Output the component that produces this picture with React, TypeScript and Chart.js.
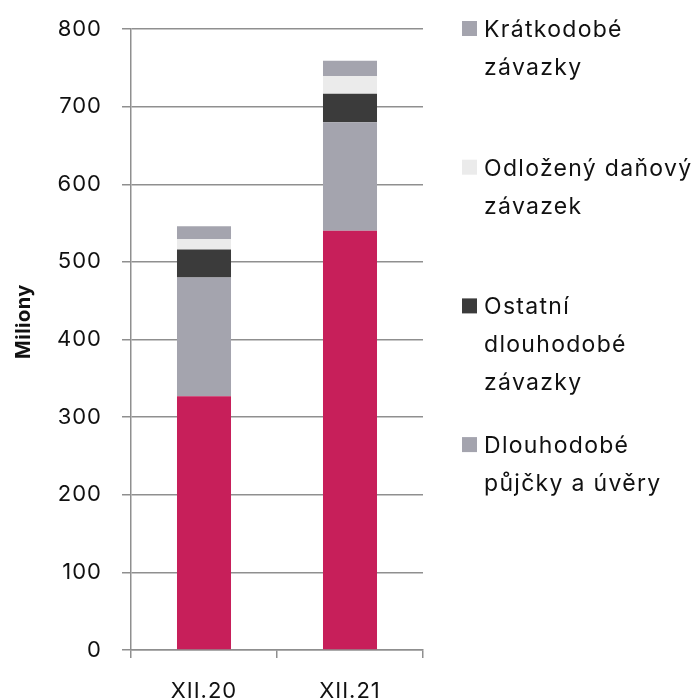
import React, { useEffect, useRef } from "react";
import { Chart, registerables } from "chart.js";

Chart.register(...registerables);

const categories = ["XII.20", "XII.21"];
const vlastniKapital = [327, 540];
const dlouhodobePujcky = [153, 140];
const ostatniDlouhodobe = [36, 36.5];
const odlozenyDanovy = [13, 23];
const kratkodobeZavazky = [17, 19.5];

const yMin = 0;
const yMax = 800;
const yStep = 100;
const yTitle = "Miliony";

const colCrimson = "#C71F5A";
const colGray = "#A4A4AE";
const colDark = "#3B3B3B";
const colLight = "#EBEBEB";
const gridColor = "#8F8F8F";
const fontFamily = "Inter, 'Noto Sans', sans-serif";

const legendEntries = [
  { lines: ["Krátkodobé", "závazky"], color: colGray },
  { lines: ["Odložený daňový", "závazek"], color: colLight },
  { lines: ["Ostatní", "dlouhodobé", "závazky"], color: colDark },
  { lines: ["Dlouhodobé", "půjčky a úvěry"], color: colGray },
];

const overlayPlugin = {
  id: "overlay",
  beforeDraw(chart: any) {
    (chart.ctx as any).letterSpacing = "1px";
  },
  afterDraw(chart: any) {
    const ctx = chart.ctx as any;
    const area = chart.chartArea;
    // Y-axis title
    ctx.save();
    ctx.letterSpacing = "0.5px";
    ctx.translate(24, (area.top + area.bottom) / 2 - 18);
    ctx.rotate(-Math.PI / 2);
    ctx.font = `bold 20px ${fontFamily}`;
    ctx.fillStyle = "#111111";
    ctx.textAlign = "center";
    ctx.textBaseline = "middle";
    ctx.fillText(yTitle, 0, 0);
    ctx.restore();

    // Legend
    ctx.save();
    ctx.letterSpacing = "1.3px";
    const boxX = area.right + 39;
    const textX = boxX + 22;
    legendEntries.forEach((e, i) => {
      const y0 = area.top - 0.5 + i * 138.7;
      ctx.fillStyle = e.color;
      ctx.fillRect(boxX, y0 - 7.5, 15, 15);
      ctx.fillStyle = "#111111";
      ctx.font = `23px ${fontFamily}`;
      ctx.textAlign = "left";
      ctx.textBaseline = "alphabetic";
      e.lines.forEach((l: string, j: number) => ctx.fillText(l, textX, y0 + 8.3 + j * 38));
    });
    ctx.restore();
    ctx.letterSpacing = "0px";
  },
};

export default function App() {
  const ref = useRef<HTMLCanvasElement>(null);
  useEffect(() => {
    if (!ref.current) return;
    const mk = (label: string, data: number[], color: string) => ({
      label,
      data,
      backgroundColor: color,
      borderWidth: 0,
      categoryPercentage: 1,
      barPercentage: 0.37,
    });
    const chart = new Chart(ref.current, {
      type: "bar",
      data: {
        labels: categories,
        datasets: [
          mk("Vlastní kapitál", vlastniKapital, colCrimson),
          mk("Dlouhodobé půjčky a úvěry", dlouhodobePujcky, colGray),
          mk("Ostatní dlouhodobé závazky", ostatniDlouhodobe, colDark),
          mk("Odložený daňový závazek", odlozenyDanovy, colLight),
          mk("Krátkodobé závazky", kratkodobeZavazky, colGray),
        ],
      },
      options: {
        animation: false,
        responsive: true,
        maintainAspectRatio: false,
        layout: { padding: { top: 29, right: 276, left: 0, bottom: 0 } },
        plugins: {
          legend: { display: false },
          tooltip: { enabled: false },
        },
        scales: {
          x: {
            stacked: true,
            afterFit: (s: any) => {
              s.height = 50;
            },
            grid: {
              offset: true,
              drawOnChartArea: false,
              tickLength: 8,
              color: gridColor,
              lineWidth: 1.5,
            },
            border: { color: gridColor, width: 1.5 },
            ticks: {
              color: "#111111",
              font: { family: fontFamily, size: 22 },
              padding: 20,
            },
          },
          y: {
            stacked: true,
            min: yMin,
            max: yMax,
            afterFit: (s: any) => {
              s.width = 131;
              s.paddingTop = 0;
              s.paddingBottom = 0;
            },
            grid: {
              color: gridColor,
              lineWidth: 1.5,
              tickLength: 9,
            },
            border: { color: gridColor, width: 1.5 },
            ticks: {
              stepSize: yStep,
              color: "#111111",
              font: { family: fontFamily, size: 22 },
              padding: 20,
            },
          },
        },
      },
      plugins: [overlayPlugin],
    });
    return () => chart.destroy();
  }, []);
  return (
    <div style={{ position: "fixed", left: 0, top: 0, width: 699, height: 700, background: "#fff" }}>
      <canvas ref={ref} />
    </div>
  );
}
